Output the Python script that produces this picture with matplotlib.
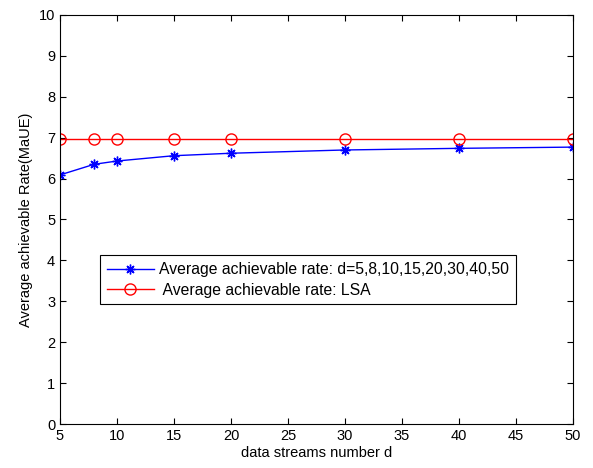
import matplotlib
matplotlib.use('Agg')
from matplotlib import pyplot

d = [5, 8, 10, 15, 20, 30, 40, 50]
rate_d = [6.09, 6.35, 6.43, 6.56, 6.62, 6.70, 6.74, 6.77]
rate_lsa = [6.97, 6.97, 6.97, 6.97, 6.97, 6.97, 6.97, 6.97]
xticks = [5, 10, 15, 20, 25, 30, 35, 40, 45, 50]
yticks = list(range(0, 11))

pyplot.rcParams['font.family'] = ['Liberation Sans', 'DejaVu Sans']
pyplot.rcParams['font.size'] = 10.5

fig = pyplot.figure(figsize=(5.93, 4.68), dpi=100)
ax = fig.add_axes([60 / 593, 1 - 424 / 468, 513 / 593, 409 / 468])

ax.plot(d, rate_d, color='blue', linewidth=1, marker=(8, 2, 0), markersize=7,
        markeredgewidth=1, label='Average achievable rate: d=5,8,10,15,20,30,40,50')
ax.plot(d, rate_lsa, color='red', linewidth=1, marker='o', markersize=8,
        markerfacecolor='none', markeredgewidth=1, label=' Average achievable rate: LSA')

ax.set_xlim(5, 50)
ax.set_ylim(0, 10)
ax.set_xticks(xticks)
ax.set_yticks(yticks)
ax.tick_params(direction='in', top=True, right=True, length=4, width=0.8, labelsize=10.5)
for s in ax.spines.values():
    s.set_linewidth(0.8)
ax.set_xlabel('data streams number d', fontsize=10.5, labelpad=2)
ax.set_ylabel('Average achievable Rate(MaUE)', fontsize=10.5, labelpad=4)

leg = ax.legend(loc='lower left', bbox_to_anchor=(0.078, 0.293), fancybox=False,
                edgecolor='black', framealpha=1, handlelength=3.0, handletextpad=0.35,
                borderaxespad=0, borderpad=0.42, fontsize=11.3, labelspacing=0.35)
leg.get_frame().set_linewidth(0.8)

fig.savefig('out.png', dpi=100)
